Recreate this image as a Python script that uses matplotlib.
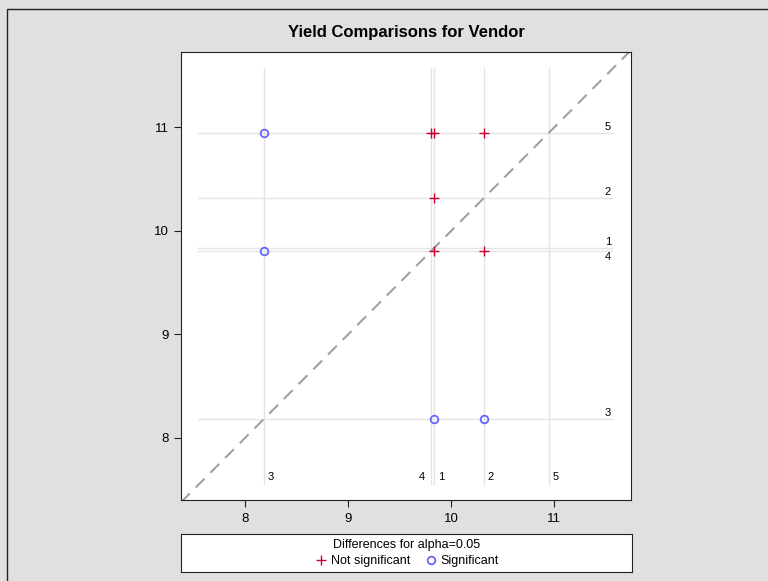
import matplotlib.pyplot as plt
from matplotlib.lines import Line2D
from matplotlib.patches import Rectangle

plt.rcParams['font.family'] = ['Liberation Sans', 'DejaVu Sans']

# vendor means (LS-means)
vendors = ['1', '2', '3', '4', '5']
means = [9.833, 10.314, 8.18, 9.804, 10.943]

# plotted comparisons: (x vendor, y vendor, significant?)
pair_x = ['3', '4', '1', '2', '1', '3', '1', '2', '1', '2']
pair_y = ['5', '5', '5', '5', '2', '4', '4', '4', '3', '3']
pair_sig = [True, False, False, False, False, True, False, False, True, True]

m = dict(zip(vendors, means))
xlim = (7.378, 11.743)
ylim = (7.40, 11.726)

fig = plt.figure(figsize=(7.68, 5.81), dpi=100)
fig.patch.set_facecolor('#e0e0e0')
# outer border of the graph area
fig.add_artist(Rectangle((7 / 768, -0.1), 1.2, 1 - 9 / 581 + 0.1, transform=fig.transFigure,
                         fill=False, edgecolor='#222222', lw=1))

ax = fig.add_axes([181 / 768, 1 - 500 / 581, 450 / 768, 448 / 581])
ax.set_xlim(xlim)
ax.set_ylim(ylim)

# reference lines for each vendor mean
for v in vendors:
    ax.plot([m[v], m[v]], [7.555, 11.57], color='#e4e4e4', lw=1, zorder=1)
    ax.plot([7.542, 11.56], [m[v], m[v]], color='#e4e4e4', lw=1, zorder=1)

# diagonal
ax.plot(xlim, xlim, color='#a0a0a0', lw=1.5, ls=(0, (6, 4)), zorder=2)

for xv, yv, s in zip(pair_x, pair_y, pair_sig):
    if s:
        ax.plot(m[xv], m[yv], 'o', ms=5.5, mfc='none', mec='#6666ff', mew=1.3, zorder=3)
    else:
        ax.plot(m[xv], m[yv], '+', ms=7, color='#cc0033', mew=1.0, zorder=3)

# labels on the right side
right_off = {'1': 0.06, '2': 0.06, '3': 0.06, '4': -0.06, '5': 0.06}
for v in vendors:
    ax.text(11.52, m[v] + right_off[v], v, fontsize=8, ha='center', va='center')

# labels at the bottom
bot_off = {'1': 0.07, '2': 0.07, '3': 0.07, '4': -0.09, '5': 0.07}
for v in vendors:
    ax.text(m[v] + bot_off[v], 7.62, v, fontsize=8, ha='center', va='center')

ax.set_xticks([8, 9, 10, 11])
ax.set_yticks([8, 9, 10, 11])
ax.tick_params(labelsize=9.5, length=5, color='#222222', pad=4)
for sp in ax.spines.values():
    sp.set_color('#222222')

fig.text(406 / 768, 1 - 33 / 581, 'Yield Comparisons for Vendor', fontsize=12,
         fontweight='bold', ha='center', va='center')

# legend box
lax = fig.add_axes([181 / 768, 1 - 572 / 581, 451 / 768, 38 / 581])
lax.set_xticks([])
lax.set_yticks([])
for sp in lax.spines.values():
    sp.set_color('#222222')
handles = [Line2D([], [], ls='none', marker='+', ms=7, color='#cc0033', mew=1.0),
           Line2D([], [], ls='none', marker='o', ms=5.5, mfc='none', mec='#6666ff', mew=1.3)]
leg = lax.legend(handles, ['Not significant', 'Significant'], title='Differences for alpha=0.05',
                 loc='center', ncol=2, frameon=False, fontsize=9, title_fontsize=9,
                 handletextpad=0.2, columnspacing=1.0, borderpad=0, labelspacing=0,
                 handlelength=1.2)
leg._legend_box.sep = 3

fig.savefig('out.png', dpi=100, facecolor=fig.get_facecolor())
